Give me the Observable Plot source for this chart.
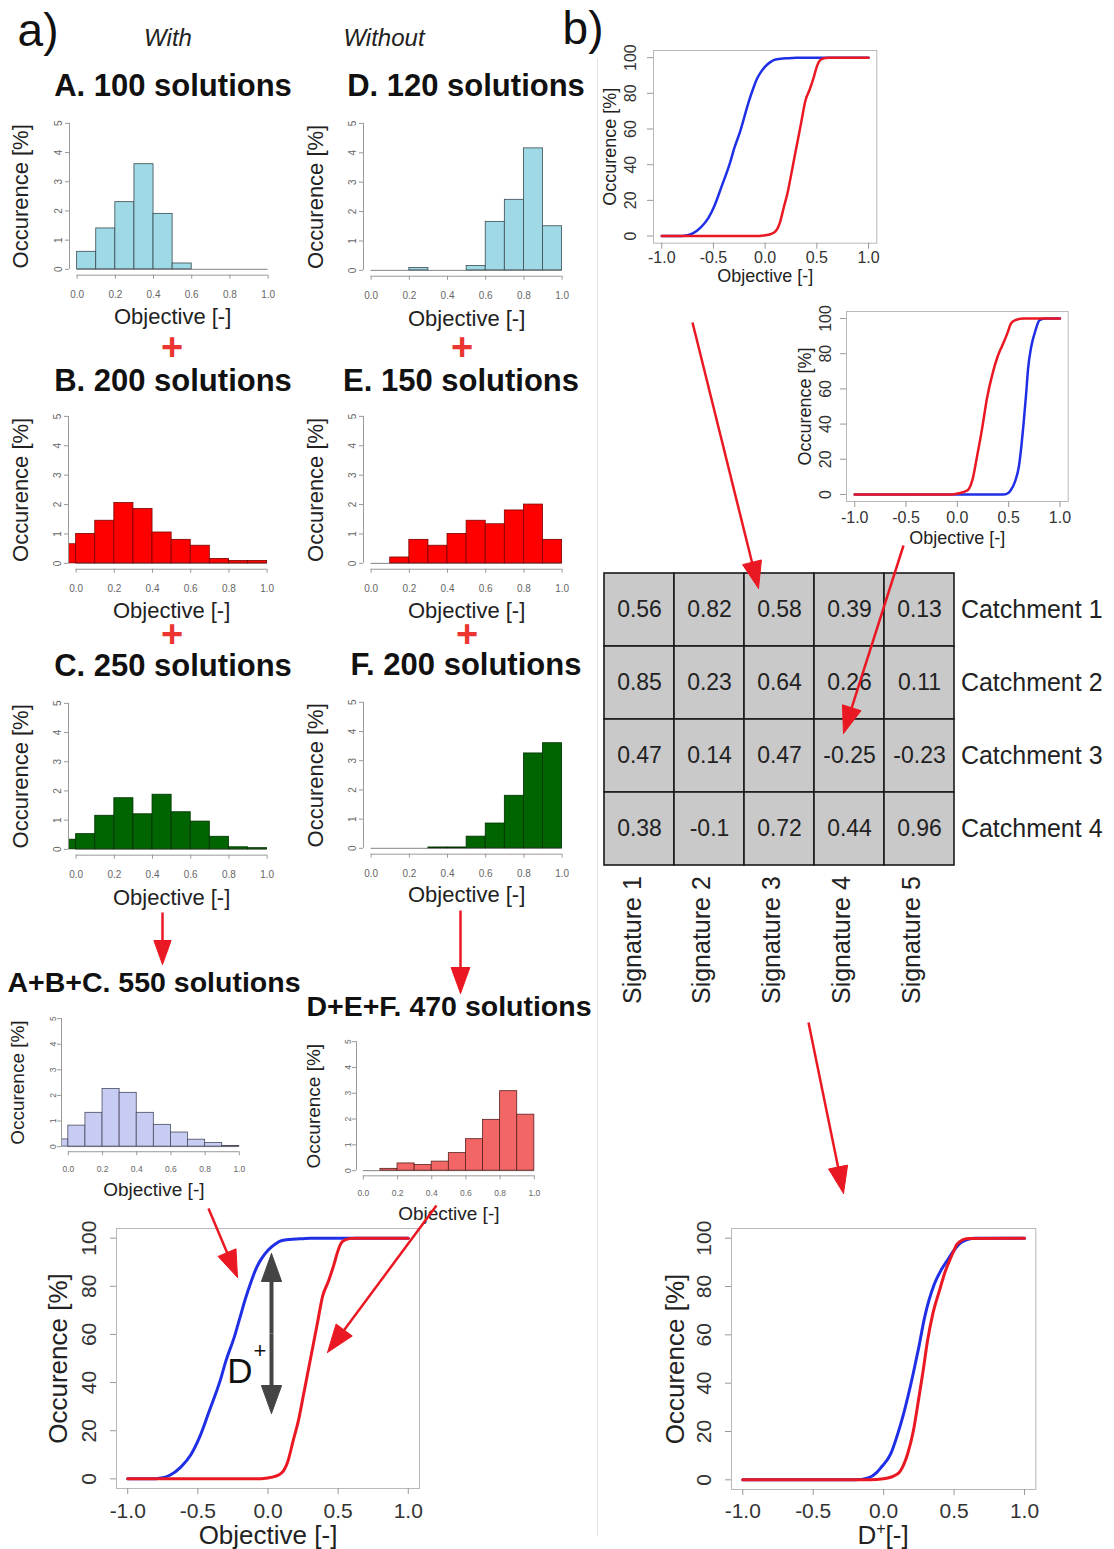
<!DOCTYPE html>
<html>
<head>
<meta charset="utf-8">
<script src="https://cdn.jsdelivr.net/npm/d3@7"></script>
<script src="https://cdn.jsdelivr.net/npm/@observablehq/plot@0.6"></script>
<style>
html,body{margin:0;padding:0;background:#fff;}
#page{position:relative;width:1114px;height:1549px;overflow:hidden;background:#fff;font-family:"Liberation Sans",Arial,Helvetica,sans-serif;color:#111;}
#page svg{position:absolute;}
.t{position:absolute;transform:translate(-50%,-50%);white-space:nowrap;line-height:1;}
</style>
</head>
<body>
<div id="page"></div>
<script>
// ---------------- data ----------------
const binStarts = [-0.1, 0, 0.1, 0.2, 0.3, 0.4, 0.5, 0.6, 0.7, 0.8, 0.9];
const binWidth = 0.1;
const histA   = [0, 0.6, 1.4, 2.3, 3.6, 1.9, 0.2, 0, 0, 0, 0];
const histB   = [0.65, 1.0, 1.45, 2.05, 1.85, 1.05, 0.8, 0.6, 0.15, 0.08, 0.08];
const histC   = [0.33, 0.52, 1.15, 1.75, 1.2, 1.87, 1.27, 0.95, 0.43, 0.07, 0.04];
const histD   = [0, 0, 0, 0.08, 0, 0, 0.15, 1.65, 2.4, 4.15, 1.5];
const histE   = [0, 0, 0.2, 0.8, 0.6, 1.0, 1.45, 1.33, 1.8, 2.0, 0.8];
const histF   = [0, 0, 0, 0, 0.03, 0.03, 0.4, 0.85, 1.8, 3.25, 3.6];
const histABC = [0.28, 0.82, 1.32, 2.25, 2.1, 1.32, 0.85, 0.55, 0.27, 0.14, 0.02];
const histDEF = [0, 0, 0.07, 0.28, 0.22, 0.35, 0.68, 1.22, 1.97, 3.08, 2.17];

const histXTicks = [0, 0.2, 0.4, 0.6, 0.8, 1];
const histYTicks = [0, 1, 2, 3, 4, 5];
const cdfXTicks = [-1, -0.5, 0, 0.5, 1];
const cdfYTicks = [0, 20, 40, 60, 80, 100];

// pooled CDFs (with / without signature)
const cdfWithX    = [-1, -0.85, -0.75, -0.7, -0.62, -0.55, -0.49, -0.42, -0.34, -0.3, -0.24, -0.2, -0.16, -0.12, -0.08, -0.04, 0, 0.05, 0.1, 0.2, 0.3, 1];
const cdfWithY    = [0, 0, 0.5, 1.5, 5, 10, 17, 28, 41, 49, 59, 67, 75, 82, 88, 92, 95, 97.5, 99, 99.6, 100, 100];
const cdfWithoutX = [-1, -0.1, 0, 0.05, 0.1, 0.14, 0.18, 0.22, 0.25, 0.28, 0.31, 0.35, 0.39, 0.43, 0.47, 0.5, 0.53, 0.58, 0.62, 1];
const cdfWithoutY = [0, 0, 0.4, 1, 2.6, 7, 16, 25, 34, 43, 52, 64, 76, 82, 89, 95, 98.5, 99.8, 100, 100];
// catchment-level CDFs
const cdfCatchWithX    = [-1, 0.45, 0.5, 0.52, 0.56, 0.6, 0.625, 0.645, 0.67, 0.69, 0.72, 0.76, 0.8, 0.85, 1];
const cdfCatchWithY    = [0, 0, 1, 2.4, 7, 16, 28, 40, 57, 72, 84, 93, 99, 100, 100];
const cdfCatchWithoutX = [-1, -0.05, 0, 0.1, 0.15, 0.19, 0.24, 0.29, 0.34, 0.39, 0.44, 0.49, 0.52, 0.56, 0.65, 1];
const cdfCatchWithoutY = [0, 0, 0.5, 2.4, 9, 21, 37, 55, 68, 78, 85, 92, 97, 99, 100, 100];
// D+ distributions
const dplusAX = [-1, -0.2, -0.11, -0.05, -0.02, 0.05, 0.1, 0.14, 0.21, 0.25, 0.29, 0.36, 0.41, 0.46, 0.5, 0.55, 0.65, 1];
const dplusAY = [0, 0, 0.8, 3, 5, 10.7, 19, 27, 44, 55, 67, 81, 87, 91.5, 95, 98.2, 100, 100];
const dplusBX = [-1, -0.1, 0, 0.1, 0.14, 0.17, 0.21, 0.25, 0.28, 0.31, 0.35, 0.4, 0.43, 0.47, 0.5, 0.52, 0.6, 1];
const dplusBY = [0, 0, 0.4, 2.5, 6, 10.7, 20, 34, 45, 57, 69, 79, 85, 91, 95, 97.5, 99.9, 100];

// table
const signatures = ["Signature 1", "Signature 2", "Signature 3", "Signature 4", "Signature 5"];
const catchments = ["Catchment 1", "Catchment 2", "Catchment 3", "Catchment 4"];
const dplusTable = [
  [0.56, 0.82, 0.58, 0.39, 0.13],
  [0.85, 0.23, 0.64, 0.26, 0.11],
  [0.47, 0.14, 0.47, -0.25, -0.23],
  [0.38, -0.1, 0.72, 0.44, 0.96]
];

// ---------------- helpers ----------------
const page = document.getElementById("page");
const FONT = "Liberation Sans, Arial, Helvetica, sans-serif";
const BLUE = "#1f2fe6", RED = "#ea1822";

function mount(el, left, top) {
  el.style.position = "absolute";
  el.style.left = left + "px";
  el.style.top = top + "px";
  page.appendChild(el);
}
function label(html, cx, cy, css) {
  const d = document.createElement("div");
  d.className = "t";
  d.innerHTML = html;
  d.style.left = cx + "px";
  d.style.top = cy + "px";
  d.style.cssText += css;
  page.appendChild(d);
}

function histogram(values, fill, stroke, g) {
  const kx = g.x1 - g.x0, ky = (g.y0 - g.y5) / 5;
  const left = g.x0 - 0.04 * kx, right = g.x1 + 0.04 * kx;
  const top = g.y5 - 0.2 * ky, bottom = g.y0 + 0.2 * ky;
  const mL = 80, mR = 10, mT = 10, mB = 70;
  const bars = binStarts.map((b, i) => ({x1: b, x2: b + binWidth, h: values[i]})).filter(d => d.h > 0);
  const tf = g.tickFont, af = g.titleFont;
  const plot = Plot.plot({
    width: right - left + mL + mR, height: bottom - top + mT + mB,
    marginLeft: mL, marginRight: mR, marginTop: mT, marginBottom: mB,
    x: {domain: [-0.04, 1.04]}, y: {domain: [-0.2, 5.2]},
    style: {background: "transparent", overflow: "visible", fontFamily: FONT},
    marks: [
      Plot.ruleY([0], {x1: 0, x2: 1, stroke: "#666", strokeWidth: 0.8}),
      Plot.rect(bars, {x1: "x1", x2: "x2", y1: 0, y2: "h", fill, stroke, strokeWidth: 0.8, inset: 0, clip: true}),
      Plot.ruleY([-0.2], {x1: 0, x2: 1, stroke: "#999", strokeWidth: 1}),
      Plot.ruleX([-0.04], {y1: 0, y2: 5, stroke: "#999", strokeWidth: 1}),
      Plot.axisX({ticks: histXTicks, tickFormat: d => d.toFixed(1), tickSize: 4,
        tickPadding: g.xTickDy - 0.2 * ky - 4 - 0.36 * tf, fontSize: tf, stroke: "#999", fill: "#666", label: null}),
      Plot.axisY({ticks: histYTicks, tickFormat: d => String(d), tickSize: 4, tickRotate: -90,
        tickPadding: g.yTickDx - 4 - 0.36 * tf, fontSize: tf, stroke: "#999", fill: "#666", label: null}),
      Plot.text(["Objective [-]"], {text: d => d, frameAnchor: "bottom", lineAnchor: "middle", textAnchor: "middle",
        dy: g.xTitleY - bottom, fontSize: af, fill: "#222"}),
      Plot.text(["Occurence [%]"], {text: d => d, frameAnchor: "left", textAnchor: "middle", lineAnchor: "middle",
        dx: g.yTitleX - left, rotate: -90, fontSize: af, fill: "#222"})
    ]
  });
  mount(plot, left - mL, top - mT);
}

function cdfPanel(curves, g) {
  const mL = 100, mR = 10, mT = 10, mB = 70;
  const f = g.tickFont;
  const marks = [
    Plot.frame({stroke: "#b8b8b8", strokeWidth: 1}),
    ...curves.map(c => Plot.line(d3.zip(c.x, c.y), {x: d => d[0], y: d => d[1], stroke: c.color, strokeWidth: g.lineWidth, curve: "monotone-x"})),
    Plot.axisX({ticks: cdfXTicks, tickFormat: d => d.toFixed(1), tickSize: 6,
      tickPadding: g.xTickY - g.bottom - 6 - 0.36 * f, fontSize: f, stroke: "#999", fill: "#333", label: null}),
    Plot.axisY({ticks: cdfYTicks, tickFormat: d => String(d), tickRotate: -90, tickSize: 6,
      tickPadding: g.left - 6 - (g.yTickX + 0.36 * f), fontSize: f, stroke: "#999", fill: "#333", label: null}),
    Plot.text(["Occurence [%]"], {text: d => d, frameAnchor: "left", textAnchor: "middle", lineAnchor: "middle",
      dx: g.yTitleX - g.left, rotate: -90, fontSize: g.titleFont, fill: "#222"})
  ];
  if (g.xTitle) marks.push(Plot.text([g.xTitle], {text: d => d, frameAnchor: "bottom", lineAnchor: "middle", textAnchor: "middle",
    dy: g.xTitleY - g.bottom, fontSize: g.titleFont, fill: "#222"}));
  const plot = Plot.plot({
    width: g.right - g.left + mL + mR, height: g.bottom - g.top + mT + mB,
    marginLeft: mL, marginRight: mR, marginTop: mT, marginBottom: mB,
    x: {domain: [-1.08, 1.08]}, y: {domain: [-4, 104]},
    style: {background: "transparent", overflow: "visible", fontFamily: FONT},
    marks
  });
  mount(plot, g.left - mL, g.top - mT);
}

// ---------------- headings ----------------
label("a)", 38, 30, "font-size:46px;color:#111;");
label("b)", 583, 28, "font-size:46px;color:#111;");
label("With", 168, 38, "font-size:24px;font-style:italic;color:#222;");
label("Without", 384, 38, "font-size:24px;font-style:italic;color:#222;");
const bold = "font-size:31px;font-weight:bold;color:#111;";
const boldS = "font-size:28.5px;font-weight:bold;color:#111;";
label("A. 100 solutions", 173, 85, bold);
label("D. 120 solutions", 466, 85, bold);
label("B. 200 solutions", 173, 380, bold);
label("E. 150 solutions", 461, 380, bold);
label("C. 250 solutions", 173, 665, bold);
label("F. 200 solutions", 466, 664, bold);
label("A+B+C. 550 solutions", 154, 982, boldS);
label("D+E+F. 470 solutions", 449, 1006, boldS);
const plus = "font-size:38px;font-weight:bold;color:#ea3530;line-height:0.6;";
label("+", 172, 347, plus);
label("+", 462, 347, plus);
label("+", 172, 634, plus);
label("+", 467, 634, plus);

// divider
const div = document.createElement("div");
div.style.cssText = "position:absolute;left:597px;top:58px;width:1px;height:1478px;background:#e2e2e2;";
page.appendChild(div);

// ---------------- histograms ----------------
const big = {tickFont: 10, titleFont: 22, xTickDy: 25, yTickDx: 11};
histogram(histA, "#9fd9e6", "#3a4a50", {...big, x0: 77, x1: 268, y0: 269, y5: 123, xTitleY: 317, yTitleX: 21});
histogram(histB, "#ff0000", "#7a0000", {...big, x0: 76, x1: 267, y0: 563, y5: 416, xTitleY: 611, yTitleX: 21});
histogram(histC, "#006400", "#003000", {...big, x0: 76, x1: 267, y0: 849, y5: 703, xTitleY: 898, yTitleX: 21});
histogram(histD, "#9fd9e6", "#3a4a50", {...big, x0: 371, x1: 562, y0: 270, y5: 123, xTitleY: 319, yTitleX: 316});
histogram(histE, "#ff0000", "#7a0000", {...big, x0: 371, x1: 562, y0: 563, y5: 416, xTitleY: 611, yTitleX: 316});
histogram(histF, "#006400", "#003000", {...big, x0: 371, x1: 562, y0: 848, y5: 702, xTitleY: 895, yTitleX: 316});
const small = {tickFont: 8.5, titleFont: 19, xTickDy: 22, yTickDx: 9};
histogram(histABC, "#c7ccf3", "#4a4a60", {...small, x0: 68, x1: 239, y0: 1146, y5: 1018, xTitleY: 1189, yTitleX: 18});
histogram(histDEF, "#f26666", "#5a2020", {...small, x0: 363, x1: 534, y0: 1170, y5: 1041, xTitleY: 1213, yTitleX: 314});

// ---------------- CDF panels ----------------
const pooled = [{x: cdfWithX, y: cdfWithY, color: BLUE}, {x: cdfWithoutX, y: cdfWithoutY, color: RED}];
cdfPanel(pooled, {left: 116, right: 419, top: 1228, bottom: 1488, tickFont: 21, titleFont: 26,
  xTickY: 1510, yTickX: 88, yTitleX: 58, xTitleY: 1535, xTitle: "Objective [-]", lineWidth: 3});
cdfPanel(pooled, {left: 652.7, right: 876, top: 50, bottom: 242.7, tickFont: 16, titleFont: 18,
  xTickY: 257, yTickX: 629, yTitleX: 609, xTitleY: 276, xTitle: "Objective [-]", lineWidth: 2.5});
cdfPanel([{x: cdfCatchWithX, y: cdfCatchWithY, color: BLUE}, {x: cdfCatchWithoutX, y: cdfCatchWithoutY, color: RED}],
  {left: 846, right: 1067.7, top: 310.7, bottom: 500.7, tickFont: 16, titleFont: 18,
  xTickY: 517, yTickX: 825, yTitleX: 805, xTitleY: 537, xTitle: "Objective [-]", lineWidth: 2.5});
cdfPanel([{x: dplusAX, y: dplusAY, color: BLUE}, {x: dplusBX, y: dplusBY, color: RED}],
  {left: 730.7, right: 1035, top: 1228.3, bottom: 1489.3, tickFont: 21, titleFont: 26,
  xTickY: 1510, yTickX: 703, yTitleX: 675, xTitleY: 1533, xTitle: null, lineWidth: 3});
label('D<sup style="font-size:16px;line-height:0;">+</sup>[-]', 883, 1535, "font-size:26px;color:#222;");

// ---------------- table ----------------
{
  const left = 603.3, right = 955.7, top = 572.3, bottom = 866;
  const mL = 10, mR = 170, mT = 10, mB = 160;
  const cells = catchments.flatMap((c, i) => signatures.map((s, j) => ({sig: s, catch: c, v: dplusTable[i][j]})));
  const plot = Plot.plot({
    width: right - left + mL + mR, height: bottom - top + mT + mB,
    marginLeft: mL, marginRight: mR, marginTop: mT, marginBottom: mB,
    x: {domain: signatures, padding: 0}, y: {domain: catchments, padding: 0},
    style: {background: "transparent", overflow: "visible", fontFamily: FONT},
    marks: [
      Plot.cell(cells, {x: "sig", y: "catch", fill: "#c9c9c9", stroke: "#1a1a1a", strokeWidth: 1.6, inset: 0}),
      Plot.text(cells, {x: "sig", y: "catch", text: d => String(d.v), fontSize: 23, fill: "#222"}),
      Plot.axisX({anchor: "bottom", tickSize: 0, tickRotate: -90, tickPadding: 10, fontSize: 25, fill: "#222", dx: -7, label: null}),
      Plot.axisY({anchor: "right", tickSize: 0, tickPadding: 5, fontSize: 25, fill: "#222", label: null})
    ]
  });
  mount(plot, left - mL, top - mT);
}

// D+ annotation text
label("D", 240, 1370, "font-size:35px;color:#111;");
label("+", 260, 1351, "font-size:22px;color:#111;");

// ---------------- annotation arrows (page pixel space) ----------------
const annotationArrows = [
  {x1: 162, y1: 912, x2: 162, y2: 964, color: RED, L: 24, w: 2.5},
  {x1: 460, y1: 910, x2: 460, y2: 993, color: RED, L: 26, w: 2.5},
  {x1: 208, y1: 1208, x2: 237, y2: 1277, color: RED, L: 27, w: 2.5},
  {x1: 436, y1: 1205, x2: 327, y2: 1352, color: RED, L: 28, w: 2.5},
  {x1: 692, y1: 322, x2: 758, y2: 588, color: RED, L: 27, w: 2.5},
  {x1: 903, y1: 545, x2: 843, y2: 733, color: RED, L: 27, w: 2.5},
  {x1: 808, y1: 1022, x2: 843, y2: 1193, color: RED, L: 27, w: 2.5},
  {x1: 271, y1: 1333, x2: 271, y2: 1253, color: "#444", L: 28, w: 4},
  {x1: 271, y1: 1333, x2: 271, y2: 1413, color: "#444", L: 28, w: 4}
];
{
  const unit = a => { const dx = a.x2 - a.x1, dy = a.y2 - a.y1, n = Math.hypot(dx, dy); return [dx / n, dy / n]; };
  const shafts = annotationArrows.map(a => { const [ux, uy] = unit(a); return {...a, xe: a.x2 - ux * a.L * 0.8, ye: a.y2 - uy * a.L * 0.8}; });
  const heads = annotationArrows.flatMap((a, i) => {
    const [ux, uy] = unit(a), px = -uy, py = ux, h = a.L * 0.36;
    const bx = a.x2 - ux * a.L, by = a.y2 - uy * a.L;
    return [
      {id: i, color: a.color, x: a.x2, y: a.y2},
      {id: i, color: a.color, x: bx + px * h, y: by + py * h},
      {id: i, color: a.color, x: bx - px * h, y: by - py * h},
      {id: i, color: a.color, x: a.x2, y: a.y2}
    ];
  });
  const overlay = Plot.plot({
    width: 1114, height: 1549, margin: 0,
    x: {domain: [0, 1114], range: [0, 1114], axis: null},
    y: {domain: [0, 1549], range: [0, 1549], axis: null},
    color: {type: "identity"},
    style: {background: "transparent", overflow: "visible", pointerEvents: "none"},
    marks: [
      Plot.link(shafts, {x1: "x1", y1: "y1", x2: "xe", y2: "ye", stroke: "color", strokeWidth: "w"}),
      Plot.line(heads, {x: "x", y: "y", z: "id", fill: "color", stroke: "color", strokeWidth: 1})
    ]
  });
  mount(overlay, 0, 0);
}
</script>
</body>
</html>
